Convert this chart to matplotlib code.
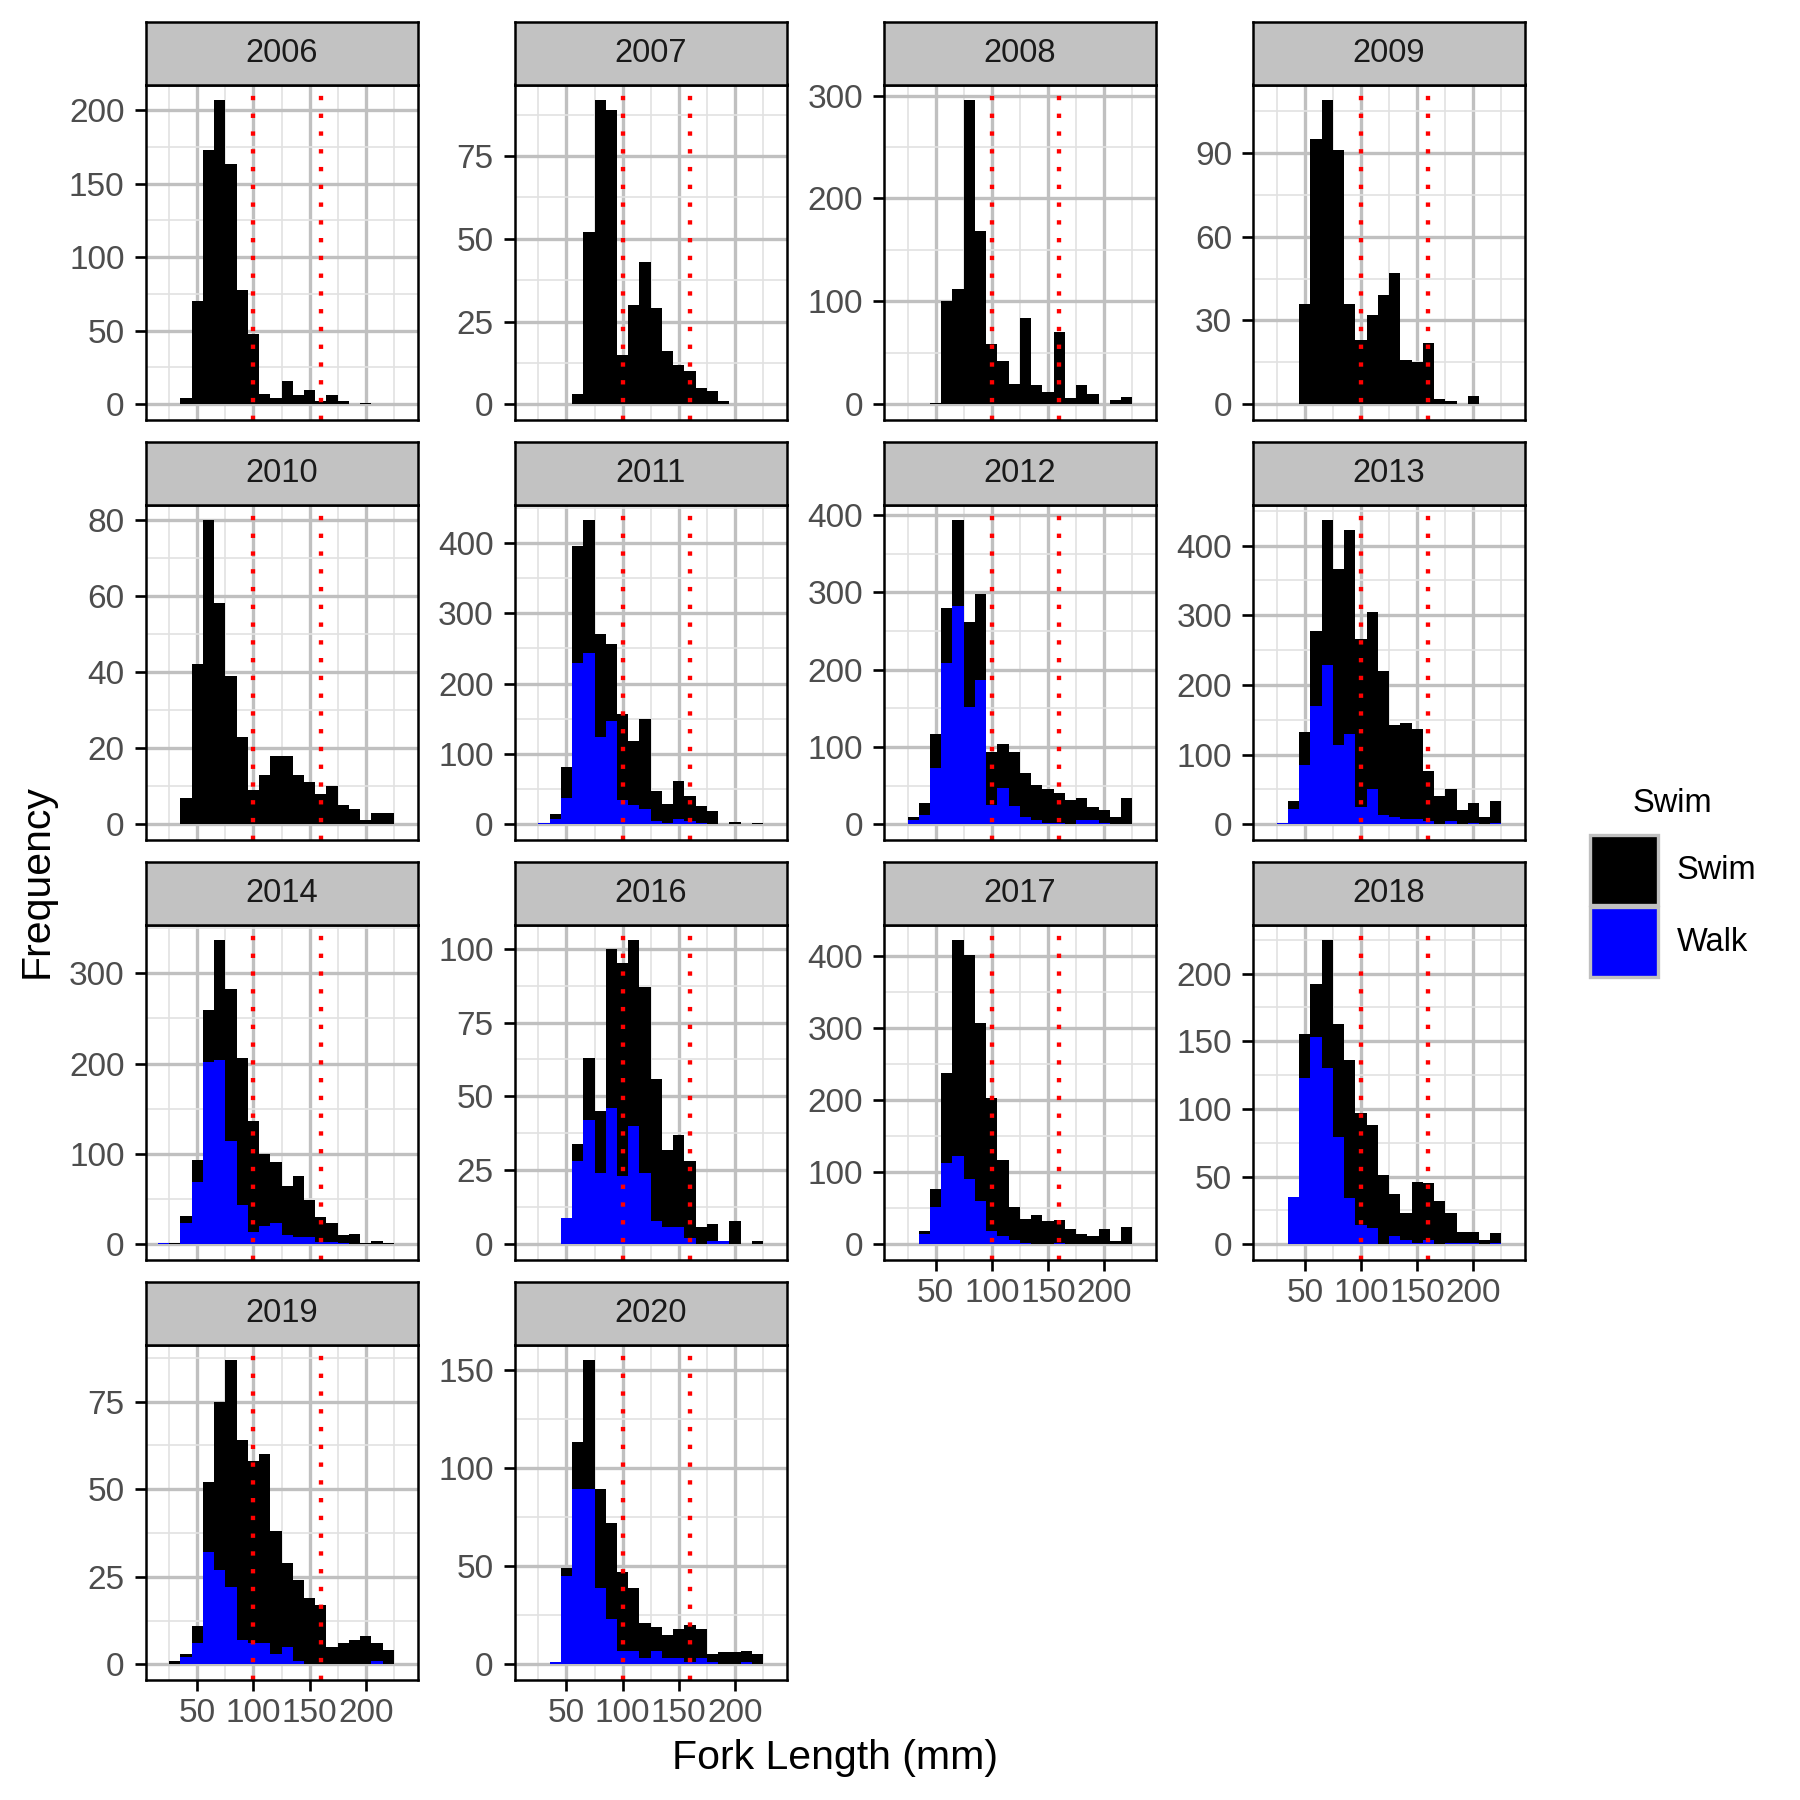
import numpy as np
import matplotlib
matplotlib.use("Agg")
import matplotlib.pyplot as plt
from matplotlib.patches import Rectangle

plt.rcParams['font.family'] = ['Liberation Sans', 'DejaVu Sans']

# bins of 10 mm, centred on 20, 30, ..., 230
bin_edges = np.arange(15, 245, 10)

years = ['2006', '2007', '2008', '2009', '2010', '2011', '2012',
         '2013', '2014', '2016', '2017', '2018', '2019', '2020']

# total counts (Swim + Walk) and Walk counts per bin
total_2006 = [0, 0, 4, 70, 173, 207, 163, 78, 48, 7, 4, 16, 6, 10, 2, 6, 2, 0, 1, 0, 0, 0]
walk_2006 = [0] * 22
total_2007 = [0, 0, 0, 0, 3, 52, 92, 89, 15, 30, 43, 29, 16, 12, 10, 5, 4, 1, 0, 0, 0, 0]
walk_2007 = [0] * 22
total_2008 = [0, 0, 0, 1, 100, 112, 296, 168, 59, 42, 20, 84, 19, 12, 70, 6, 19, 10, 0, 4, 7, 0]
walk_2008 = [0] * 22
total_2009 = [0, 0, 0, 36, 95, 109, 91, 36, 23, 32, 39, 47, 16, 15, 22, 2, 1, 0, 3, 0, 0, 0]
walk_2009 = [0] * 22
total_2010 = [0, 0, 7, 42, 80, 58, 39, 23, 9, 13, 18, 18, 13, 11, 8, 10, 5, 4, 1, 3, 3, 0]
walk_2010 = [0] * 22
total_2011 = [0, 2, 15, 82, 395, 433, 270, 257, 157, 118, 150, 47, 29, 62, 40, 26, 19, 1, 3, 1, 2, 0]
walk_2011 = [0, 2, 8, 38, 230, 244, 124, 147, 35, 27, 22, 4, 2, 8, 5, 2, 0, 0, 0, 0, 0, 0]
total_2012 = [0, 9, 28, 117, 280, 394, 262, 298, 94, 104, 93, 66, 51, 45, 40, 32, 34, 22, 19, 10, 34, 0]
walk_2012 = [0, 6, 12, 73, 208, 283, 152, 187, 25, 47, 23, 9, 6, 1, 2, 0, 5, 5, 2, 0, 0, 0]
total_2013 = [0, 2, 33, 132, 277, 437, 366, 422, 266, 304, 220, 143, 146, 137, 76, 40, 50, 20, 30, 11, 34, 0]
walk_2013 = [0, 2, 22, 85, 169, 229, 114, 129, 25, 51, 14, 10, 8, 7, 4, 1, 4, 1, 2, 1, 2, 0]
total_2014 = [1, 1, 31, 93, 259, 337, 283, 206, 136, 100, 91, 65, 76, 49, 30, 24, 10, 11, 1, 4, 1, 0]
walk_2014 = [1, 0, 24, 69, 202, 204, 114, 44, 14, 20, 23, 10, 8, 8, 2, 2, 1, 0, 0, 0, 0, 0]
total_2016 = [0, 0, 0, 9, 34, 63, 45, 100, 95, 103, 87, 56, 32, 37, 28, 6, 7, 1, 8, 0, 1, 0]
walk_2016 = [0, 0, 0, 9, 28, 42, 24, 46, 23, 40, 24, 8, 6, 6, 2, 0, 1, 1, 0, 0, 0, 0]
total_2017 = [0, 1, 19, 77, 238, 422, 401, 307, 203, 117, 52, 35, 41, 32, 34, 21, 14, 11, 21, 5, 24, 1]
walk_2017 = [0, 1, 14, 52, 113, 122, 90, 60, 18, 11, 6, 2, 1, 0, 2, 0, 0, 0, 1, 0, 0, 1]
total_2018 = [0, 0, 35, 155, 192, 225, 163, 136, 97, 88, 51, 37, 23, 46, 45, 32, 23, 9, 9, 3, 8, 0]
walk_2018 = [0, 0, 35, 123, 153, 130, 79, 34, 14, 12, 0, 6, 3, 1, 3, 0, 1, 1, 1, 0, 1, 0]
total_2019 = [0, 1, 3, 11, 52, 75, 87, 64, 58, 60, 38, 29, 24, 19, 17, 5, 6, 7, 8, 6, 4, 0]
walk_2019 = [0, 0, 2, 6, 32, 27, 22, 7, 6, 6, 3, 5, 1, 0, 0, 0, 0, 0, 0, 1, 0, 0]
total_2020 = [0, 0, 1, 49, 113, 155, 89, 72, 47, 39, 21, 19, 15, 18, 20, 18, 5, 6, 6, 7, 5, 0]
walk_2020 = [0, 0, 1, 45, 89, 89, 39, 23, 7, 7, 3, 7, 3, 3, 1, 3, 1, 0, 0, 1, 0, 0]

totals = [total_2006, total_2007, total_2008, total_2009, total_2010, total_2011, total_2012,
          total_2013, total_2014, total_2016, total_2017, total_2018, total_2019, total_2020]
walks = [walk_2006, walk_2007, walk_2008, walk_2009, walk_2010, walk_2011, walk_2012,
         walk_2013, walk_2014, walk_2016, walk_2017, walk_2018, walk_2019, walk_2020]

y_breaks = [[0, 50, 100, 150, 200], [0, 25, 50, 75], [0, 100, 200, 300], [0, 30, 60, 90],
            [0, 20, 40, 60, 80], [0, 100, 200, 300, 400], [0, 100, 200, 300, 400],
            [0, 100, 200, 300, 400], [0, 100, 200, 300], [0, 25, 50, 75, 100],
            [0, 100, 200, 300, 400], [0, 50, 100, 150, 200], [0, 25, 50, 75], [0, 50, 100, 150]]

x_breaks = [50, 100, 150, 200]
x_minor = [25, 75, 125, 175, 225]
cutoffs = [100, 160]

legend_labels = ['Swim', 'Walk']
fill_colors = ['black', '#0000FF']

GRID_MAJOR = '#C0C0C0'
GRID_MINOR = '#E2E2E2'
STRIP_BG = '#C2C2C2'
TICK_TXT = '#4D4D4D'

W = H = 1800
fig = plt.figure(figsize=(7.5, 7.5), dpi=240)


def fx(px):
    return px / W


def fy(px):
    return 1 - px / H


strip_h = 63
panel_h = 335
panel_w = 272

for i, year in enumerate(years):
    row, col = divmod(i, 4)
    left = 145.5 + col * 369.2
    top = 21.5 + row * 420

    ax = fig.add_axes([fx(left), fy(top + strip_h + panel_h), panel_w / W, panel_h / H])
    total = np.array(totals[i])
    walk = np.array(walks[i])

    ax.stairs(walk, bin_edges, baseline=0, fill=True, color=fill_colors[1], linewidth=0, zorder=2)
    ax.stairs(total, bin_edges, baseline=walk, fill=True, color=fill_colors[0], linewidth=0, zorder=2)
    for c in cutoffs:
        ax.axvline(c, color='red', lw=1.3, ls=(0, (1, 3.1)), zorder=3)

    ymax = total.max()
    ax.set_ylim(-0.05 * ymax, 1.05 * ymax)
    ax.set_xlim(4, 246)

    brk = y_breaks[i]
    step = brk[1] - brk[0]
    ymin_minor = [b + step / 2 for b in [brk[0] - step] + brk]
    ymin_minor = [m for m in ymin_minor if -0.05 * ymax < m < 1.05 * ymax]
    ax.set_yticks(brk)
    ax.set_yticks(ymin_minor, minor=True)
    ax.set_xticks(x_breaks)
    ax.set_xticks(x_minor, minor=True)

    ax.grid(which='major', color=GRID_MAJOR, lw=1.0, zorder=0)
    ax.grid(which='minor', color=GRID_MINOR, lw=0.5, zorder=0)
    ax.set_axisbelow(True)

    ax.tick_params(which='minor', length=0)
    ax.tick_params(axis='y', which='major', length=3.3, width=0.8, pad=3.0,
                   labelsize=10, labelcolor=TICK_TXT, color='black')
    has_below = i + 4 < len(years)
    if has_below:
        ax.tick_params(axis='x', which='major', length=0, labelbottom=False)
    else:
        ax.tick_params(axis='x', which='major', length=3.3, width=0.8, pad=2.3,
                       labelsize=10, labelcolor=TICK_TXT, color='black')
    for sp in ax.spines.values():
        sp.set_color('black')
        sp.set_linewidth(0.75)
        sp.set_zorder(4)

    sax = fig.add_axes([fx(left), fy(top + strip_h), panel_w / W, strip_h / H])
    sax.set_facecolor(STRIP_BG)
    sax.set_xticks([])
    sax.set_yticks([])
    for sp in sax.spines.values():
        sp.set_color('black')
        sp.set_linewidth(0.75)
    sax.text(0.5, 0.5, year, ha='center', va='center', fontsize=9.8, color='#1A1A1A',
             transform=sax.transAxes)

# axis titles
fig.text(fx(37), fy(881), 'Frequency', rotation=90, ha='center', va='center', fontsize=12.3)
fig.text(fx(835), fy(1758), 'Fork Length (mm)', ha='center', va='center', fontsize=12.3)

# legend
fig.text(fx(1672), fy(803), 'Swim', ha='center', va='center', fontsize=9.8)
key_tops = [835, 907]
for lab, col, kt in zip(legend_labels, fill_colors, key_tops):
    fig.add_artist(Rectangle((fx(1590), fy(kt + 70)), 68 / W, 70 / H, transform=fig.transFigure,
                             facecolor=col, edgecolor='#C0C0C0', lw=1.0))
    fig.text(fx(1677), fy(kt + 36), lab, ha='left', va='center', fontsize=9.8)

fig.savefig('out.png', dpi=240, facecolor='white')
